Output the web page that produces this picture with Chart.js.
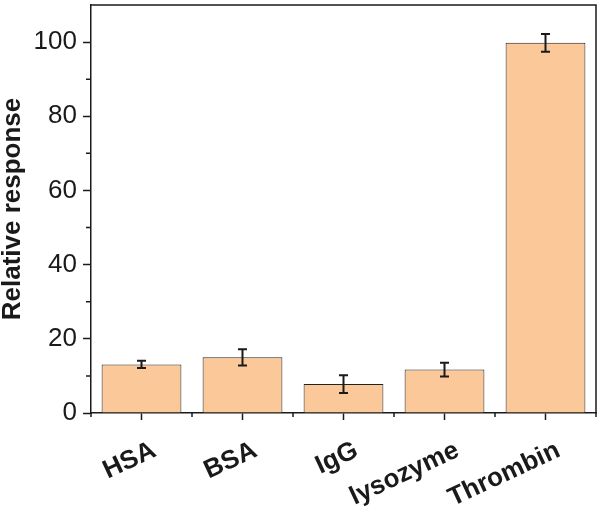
<!DOCTYPE html>
<html>
<head>
<meta charset="utf-8">
<script src="https://cdn.jsdelivr.net/npm/chart.js@4"></script>
<style>
  html, body { margin: 0; padding: 0; background: #fff; }
  #wrap { width: 600px; height: 514px; }
</style>
</head>
<body>
<div id="wrap"><canvas id="chart"></canvas></div>
<script>
const categories = ['HSA', 'BSA', 'IgG', 'lysozyme', 'Thrombin'];
const responses = [13.1, 15.0, 7.8, 11.7, 99.8];
const errors = [1.0, 2.2, 2.4, 1.85, 2.4];
const yMajorTicks = [0, 20, 40, 60, 80, 100];
const yMinorTicks = [10, 30, 50, 70, 90];

const ink = '#1a1a1a';

// error bars, minor ticks and the top/right frame
const extras = {
    id: 'extras',
    afterDatasetsDraw(chart) {
        const ctx = chart.ctx;
        const xs = chart.scales.x, ys = chart.scales.y;
        const area = chart.chartArea;
        ctx.save();
        ctx.strokeStyle = ink;

        ctx.lineWidth = 2;
        responses.forEach((v, i) => {
            const px = xs.getPixelForValue(i);
            const top = ys.getPixelForValue(v + errors[i]);
            const bot = ys.getPixelForValue(v - errors[i]);
            ctx.beginPath();
            ctx.moveTo(px, top); ctx.lineTo(px, bot);
            ctx.moveTo(px - 4.5, top); ctx.lineTo(px + 4.5, top);
            ctx.moveTo(px - 4.5, bot); ctx.lineTo(px + 4.5, bot);
            ctx.stroke();
        });

        ctx.lineWidth = 1.5;
        ctx.beginPath();
        yMinorTicks.forEach(t => {
            const py = ys.getPixelForValue(t);
            ctx.moveTo(area.left - 5, py); ctx.lineTo(area.left, py);
        });
        const step = (area.right - area.left) / categories.length;
        for (let i = 0; i <= categories.length; i++) {
            const px = area.left + step * i;
            ctx.moveTo(px, area.bottom); ctx.lineTo(px, area.bottom + 4);
        }
        ctx.moveTo(area.left, area.top); ctx.lineTo(area.right, area.top);
        ctx.lineTo(area.right, area.bottom);
        ctx.stroke();
        ctx.restore();
    }
};

new Chart(document.getElementById('chart'), {
    type: 'bar',
    data: {
        labels: categories,
        datasets: [{
            label: 'Relative response',
            data: responses,
            backgroundColor: 'rgb(251, 201, 153)',
            borderColor: '#222',
            borderWidth: 1,
            barPercentage: 0.79,
            categoryPercentage: 1.0
        }]
    },
    options: {
        responsive: true,
        maintainAspectRatio: false,
        animation: false,
        layout: { padding: { top: 5, right: 4, left: 0, bottom: 0 } },
        plugins: {
            legend: { display: false },
            tooltip: { enabled: false }
        },
        scales: {
            x: {
                grid: { drawOnChartArea: false, offset: false, tickLength: 7, tickWidth: 1.5, tickColor: ink },
                border: { display: true, color: ink, width: 1.5 },
                ticks: {
                    color: ink,
                    font: { family: 'Liberation Sans', size: 26, weight: 'bold' },
                    maxRotation: 25,
                    minRotation: 25,
                    autoSkip: false,
                    labelOffset: 13,
                    padding: 15
                },
                afterFit: (s) => { s.height = 101; s.paddingLeft = 0; s.paddingRight = 0; }
            },
            y: {
                min: 0,
                max: 110,
                afterBuildTicks: (s) => { s.ticks = yMajorTicks.map(v => ({ value: v })); },
                grid: { drawOnChartArea: false, tickLength: 8, tickWidth: 1.5, tickColor: ink },
                border: { display: true, color: ink, width: 1.5 },
                ticks: {
                    color: ink,
                    font: { family: 'Liberation Sans', size: 26 },
                    padding: 6
                },
                title: {
                    display: true,
                    text: 'Relative response',
                    color: ink,
                    font: { family: 'Liberation Sans', size: 26, weight: 'bold', lineHeight: 1 },
                    padding: 0
                },
                afterFit: (s) => { s.width = 91; s.paddingTop = 0; s.paddingBottom = 0; }
            }
        }
    },
    plugins: [extras]
});
</script>
</body>
</html>
